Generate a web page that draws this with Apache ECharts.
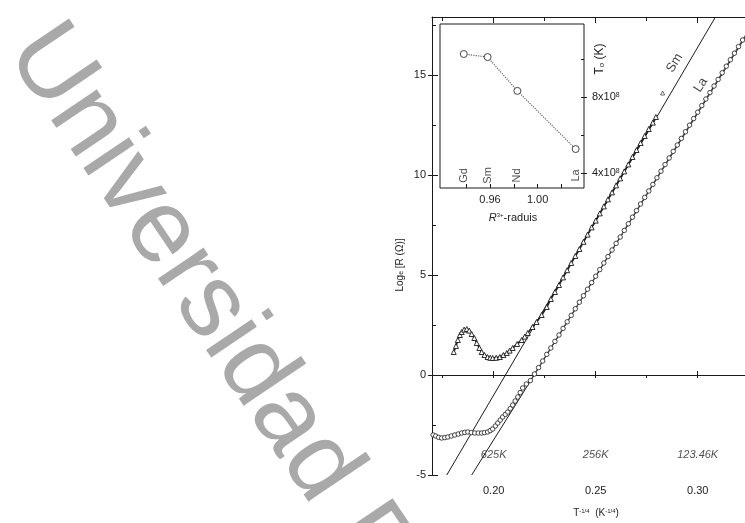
<!DOCTYPE html>
<html><head><meta charset="utf-8">
<script src="https://cdn.jsdelivr.net/npm/echarts@6/dist/echarts.min.js"></script>
<style>html,body{margin:0;padding:0;background:#fff}#c{width:745px;height:523px}</style>
</head><body><div id="c"></div>
<script>
// ---------- data ----------
const smPoints = [
[0.1804,1.15],[0.1815,1.45],[0.1824,1.75],[0.1834,2.0],[0.1843,2.15],[0.1855,2.27],[0.1868,2.3],[0.188,2.22],[0.1892,2.05],[0.1905,1.85],[0.1917,1.6],[0.193,1.35],[0.1941,1.15],[0.1955,1.0],[0.197,0.9],[0.1983,0.86],[0.1995,0.85],[0.2012,0.86],[0.203,0.9],[0.2047,1.0],[0.2064,1.1],[0.2078,1.22],[0.2093,1.35],[0.2115,1.55],[0.2137,1.75],[0.2152,1.92],[0.2167,2.1],[0.219,2.4],[0.221,2.65],[0.2235,3.0],[0.226,3.4],
[0.228,3.8],[0.230,4.15],[0.232,4.5],[0.234,4.88],[0.236,5.24],[0.238,5.6],[0.240,5.95],[0.242,6.3],[0.244,6.66],[0.246,7.02],[0.248,7.38],[0.250,7.72],[0.252,8.08],[0.254,8.43],[0.256,8.78],[0.258,9.13],[0.260,9.48],[0.262,9.83],[0.264,10.18],[0.266,10.53],[0.268,10.9],[0.270,11.25],[0.272,11.6],[0.274,11.95],[0.276,12.3],[0.278,12.62],[0.2795,12.9]
];
const smOutlier = [[0.2828,14.1]];
const laPoints = [
[0.1703,-3.0],[0.1716,-3.05],[0.173,-3.12],[0.1745,-3.15],[0.176,-3.13],[0.1775,-3.1],[0.1792,-3.05],[0.1809,-3.0],[0.1826,-2.95],[0.1843,-2.9],[0.1858,-2.87],[0.1873,-2.85],[0.189,-2.88],[0.1907,-2.9],[0.1924,-2.9],[0.1941,-2.9],[0.1955,-2.88],[0.197,-2.85],[0.1983,-2.78],[0.1995,-2.7],[0.2008,-2.55],[0.202,-2.4],[0.2032,-2.25],[0.2044,-2.1],[0.2057,-1.97],[0.2069,-1.85],[0.2081,-1.68],[0.2093,-1.5],[0.2105,-1.3],[0.2118,-1.1],[0.213,-0.88],[0.2142,-0.65],[0.216,-0.45],[0.218,-0.28],
[0.220,0.05],[0.222,0.37],[0.224,0.7],[0.226,1.03],[0.228,1.35],[0.230,1.68],[0.232,2.0],[0.234,2.33],[0.236,2.66],[0.238,2.98],[0.240,3.31],[0.242,3.64],[0.244,3.96],[0.246,4.29],[0.248,4.62],[0.250,4.94],[0.252,5.27],[0.254,5.6],[0.256,5.92],[0.258,6.25],[0.260,6.58],[0.262,6.9],[0.264,7.23],[0.266,7.56],[0.268,7.89],[0.270,8.22],[0.272,8.55],[0.274,8.88],[0.276,9.2],[0.278,9.53],[0.280,9.86],[0.282,10.19],[0.284,10.52],[0.286,10.85],[0.288,11.18],[0.290,11.5],[0.292,11.83],[0.294,12.16],[0.296,12.49],[0.298,12.82],[0.300,13.14],[0.302,13.47],[0.304,13.8],[0.306,14.12],[0.308,14.45],[0.310,14.78],[0.312,15.11],[0.314,15.44],[0.316,15.76],[0.318,16.09],[0.320,16.42],[0.322,16.75],[0.324,17.07]
];
const smFit = [[0.177,-5],[0.3087,17.9]];
const laFit = [[0.1892,-5],[0.3295,17.9]];
const fitNames = ['Sm','La'];
const fitLabelX = [0.2887,0.3015];
const fitLabelY = [15.6,14.5];
const tempX = [0.20,0.25,0.30];
const tempText = ['625K','256K','123.46K'];
const tempY = -4.0;

const insetElements = ['Gd','Sm','Nd','La'];
const insetRadius = [0.938,0.958,0.983,1.032];
const insetT0 = [10.26e8,10.1e8,8.32e8,5.26e8];
const insetLabelY = 3.87e8;

const xTicks = [0.20,0.25,0.30];
const xMinor = [0.175,0.225,0.275];
const yTicks = [-5,0,5,10,15];
const yMinor = [-2.5,2.5,7.5,12.5,17.5];
const insetXLabels = [0.96,1.00];
const insetXTicks = [0.94,0.96,0.98,1.00,1.02];
const insetYLabels = [4e8,8e8];
const insetYTicks = [4e8,6e8,8e8,10e8];

// ---------- chart ----------
const FONT = 'Liberation Sans, Arial, Helvetica, sans-serif';
const INK = '#1a1a1a';
const X0 = {min:0.16975, max:0.32318};
const Y0 = {min:-5, max:17.9};
const X1 = {min:0.918, max:1.039};
const Y1 = {min:3.21e8, max:11.84e8};

function tickAxis(range, grid, pos, ticks, inside, len, line) {
  return Object.assign({type:'value', gridIndex:grid, position:pos,
    axisLine:{show:!!line, lineStyle:{color:INK,width:1}}, axisLabel:{show:false}, splitLine:{show:false},
    axisTick:{show:true, customValues:ticks, inside:inside, length:len, lineStyle:{color:INK,width:1}}}, range);
}

const chart = echarts.init(document.getElementById('c'), null, {renderer:'canvas'});
const option = {
  animation:false,
  backgroundColor:'#fff',
  textStyle:{fontFamily:FONT},
  grid:[
    {left:432, top:17, width:313, height:458, show:false},
    {left:440, top:24, width:144, height:164, show:true, borderColor:INK, borderWidth:1, backgroundColor:'#fff'}
  ],
  xAxis:[
    Object.assign({type:'value', gridIndex:0, position:'bottom',
      axisLine:{show:true, lineStyle:{color:INK,width:1}}, splitLine:{show:false},
      axisTick:{show:true, customValues:xTicks, inside:true, length:4, lineStyle:{color:INK}},
      axisLabel:{customValues:xTicks, formatter:v=>v.toFixed(2), margin:10, fontSize:11, color:'#222', fontFamily:FONT}}, X0),
    tickAxis(X0,0,'bottom',xTicks,false,3),
    tickAxis(X0,0,'bottom',xMinor,false,3),
    tickAxis(X0,0,'top',xTicks,true,6,true),
    tickAxis(X0,0,'top',xMinor,true,4),
    Object.assign({type:'value', gridIndex:1, position:'bottom',
      axisLine:{show:false}, splitLine:{show:false},
      axisTick:{show:true, customValues:insetXTicks, inside:true, length:4, lineStyle:{color:INK}},
      axisLabel:{customValues:insetXLabels, formatter:v=>v.toFixed(2), margin:6, fontSize:11, color:'#222', fontFamily:FONT}}, X1)
  ],
  yAxis:[
    Object.assign({type:'value', gridIndex:0, position:'left',
      axisLine:{show:true, lineStyle:{color:INK,width:1}}, splitLine:{show:false},
      axisTick:{show:true, customValues:yTicks, inside:true, length:6, lineStyle:{color:INK}},
      axisLabel:{customValues:yTicks, margin:6, fontSize:11, color:'#222', fontFamily:FONT}}, Y0),
    tickAxis(Y0,0,'left',yTicks,false,4),
    tickAxis(Y0,0,'left',yMinor,true,4),
    Object.assign({type:'value', gridIndex:1, position:'right',
      axisLine:{show:false}, splitLine:{show:false},
      axisTick:{show:true, customValues:insetYTicks, inside:true, length:3, lineStyle:{color:INK}},
      axisLabel:{customValues:insetYLabels, margin:8, color:'#222', fontFamily:FONT,
        formatter:v=>'{a|'+(v/1e8)+'x10}{s|8}',
        rich:{a:{fontSize:11, fontFamily:FONT, color:'#222'}, s:{fontSize:7, fontFamily:FONT, color:'#222', verticalAlign:'top'}}}}, Y1),
    tickAxis(Y1,1,'right',insetYLabels,false,3)
  ],
  series:[
    {type:'line', xAxisIndex:0, yAxisIndex:0, data:smFit, symbol:'none', lineStyle:{color:INK,width:1}, silent:true},
    {type:'line', xAxisIndex:0, yAxisIndex:0, data:laFit, symbol:'none', lineStyle:{color:INK,width:1}, silent:true},
    {type:'line', xAxisIndex:0, yAxisIndex:0, data:smPoints, symbol:'triangle', symbolSize:5, showAllSymbol:true,
      itemStyle:{color:'#fff', borderColor:INK, borderWidth:0.9}, lineStyle:{color:'#222', width:1.8}},
    {type:'scatter', xAxisIndex:0, yAxisIndex:0, data:smOutlier, symbol:'triangle', symbolSize:4,
      itemStyle:{color:'#fff', borderColor:INK, borderWidth:0.8}},
    {type:'line', xAxisIndex:0, yAxisIndex:0, data:laPoints, symbol:'circle', symbolSize:4.5, showAllSymbol:true,
      itemStyle:{color:'#fff', borderColor:INK, borderWidth:0.8}, lineStyle:{color:'#444', width:1.2}},
    {type:'scatter', xAxisIndex:0, yAxisIndex:0, symbolSize:1, itemStyle:{color:'rgba(0,0,0,0)'},
      data:fitNames.map((n,i)=>({name:n, value:[fitLabelX[i], fitLabelY[i]]})),
      label:{show:true, position:'inside', formatter:'{b}', rotate:58, fontSize:13, color:'#111', fontFamily:FONT}},
    {type:'scatter', xAxisIndex:0, yAxisIndex:0, symbolSize:1, itemStyle:{color:'rgba(0,0,0,0)'},
      data:tempX.map((x,i)=>({name:tempText[i], value:[x, tempY]})),
      label:{show:true, position:'inside', formatter:'{b}', fontSize:11, fontStyle:'italic', color:'#222', fontFamily:FONT}},
    {type:'line', xAxisIndex:5, yAxisIndex:3, data:insetRadius.map((r,i)=>[r, insetT0[i]]),
      symbol:'circle', symbolSize:7, itemStyle:{color:'#fff', borderColor:'#333', borderWidth:0.9},
      lineStyle:{color:'#666', width:1.2, type:'dotted'}},
    {type:'scatter', xAxisIndex:5, yAxisIndex:3, symbolSize:1, itemStyle:{color:'rgba(0,0,0,0)'},
      data:insetElements.map((n,i)=>({name:n, value:[insetRadius[i], insetLabelY]})),
      label:{show:true, position:'inside', formatter:'{b}', rotate:90, fontSize:11, color:'#222', fontFamily:FONT}}
  ],
  graphic:[
    {type:'text', x:29, y:36, rotation:-56*Math.PI/180, z:-10, silent:true,
      style:{text:'Universidad Francisco de Paula Santander', fontSize:104, fontFamily:FONT, fill:'#a9a9a9',
        align:'left', verticalAlign:'middle', textAlign:'left', textVerticalAlign:'middle'}},
    {type:'text', x:400, y:265, rotation:Math.PI/2, silent:true,
      style:{text:'{a|Log}{b|e}{a| [R (Ω)]}', align:'center', verticalAlign:'middle', textAlign:'center', textVerticalAlign:'middle',
        rich:{a:{fontSize:10, fontFamily:FONT, fill:'#222'}, b:{fontSize:7, fontFamily:FONT, fill:'#222', verticalAlign:'bottom'}}}},
    {type:'text', x:596, y:513, silent:true,
      style:{text:'{a|T}{s|-1/4}{a|  (K}{s|-1/4}{a|)}', align:'center', verticalAlign:'middle', textAlign:'center', textVerticalAlign:'middle',
        rich:{a:{fontSize:10, fontFamily:FONT, fill:'#222'}, s:{fontSize:6, fontFamily:FONT, fill:'#222', verticalAlign:'top'}}}},
    {type:'text', x:600, y:59, rotation:Math.PI/2, silent:true,
      style:{text:'{a|T}{b|o}{a| (K)}', align:'center', verticalAlign:'middle', textAlign:'center', textVerticalAlign:'middle',
        rich:{a:{fontSize:12, fontFamily:FONT, fill:'#222'}, b:{fontSize:8, fontFamily:FONT, fill:'#222', verticalAlign:'bottom'}}}},
    {type:'text', x:513, y:218, silent:true,
      style:{text:'{i|R}{s|3+}{a|-raduis}', align:'center', verticalAlign:'middle', textAlign:'center', textVerticalAlign:'middle',
        rich:{i:{fontSize:11, fontStyle:'italic', fontFamily:FONT, fill:'#222'}, a:{fontSize:11, fontFamily:FONT, fill:'#222'}, s:{fontSize:6, fontFamily:FONT, fill:'#222', verticalAlign:'top'}}}}
  ]
};
chart.setOption(option);
</script>
</body></html>
